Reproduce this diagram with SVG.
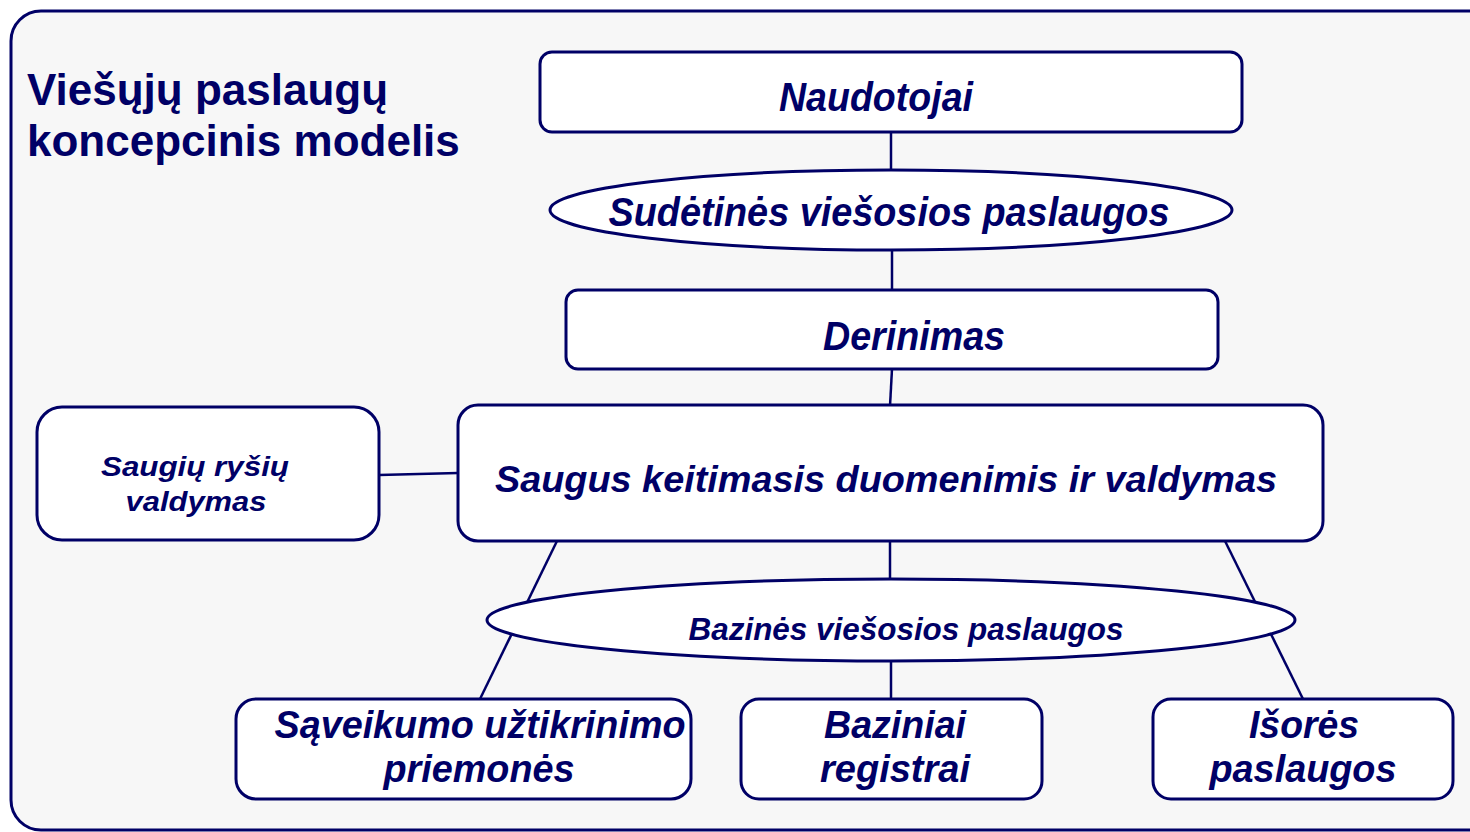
<svg xmlns="http://www.w3.org/2000/svg" width="1470" height="832" viewBox="0 0 1470 832">
<style>
.box{fill:#ffffff;stroke:#000066;stroke-width:3}
.ln{stroke:#000066;stroke-width:2.5;fill:none}
.t{font-family:"Liberation Sans",Arial,sans-serif;font-weight:bold;font-style:italic;fill:#000066;text-anchor:middle}
.title{font-family:"Liberation Sans",Arial,sans-serif;font-weight:bold;fill:#000066;font-size:44px}
</style>
<rect x="0" y="0" width="1470" height="832" fill="#ffffff"/>
<rect x="11" y="11" width="1500" height="819" rx="30" fill="#f7f7f7" stroke="#000066" stroke-width="3"/>
<g id="title">
<text class="title" x="27" y="105">Viešųjų paslaugų</text>
<text class="title" x="27" y="156">koncepcinis modelis</text>
</g>
<g id="connectors">
<line class="ln" x1="891" y1="132" x2="891" y2="170"/>
<line class="ln" x1="892" y1="250" x2="892" y2="290"/>
<line class="ln" x1="892" y1="369" x2="890" y2="406"/>
<line class="ln" x1="379" y1="475" x2="458" y2="473"/>
<line class="ln" x1="890" y1="541" x2="890" y2="580"/>
<line class="ln" x1="557" y1="541" x2="480" y2="699"/>
<line class="ln" x1="1225" y1="541" x2="1303" y2="699"/>
<line class="ln" x1="891" y1="660" x2="891" y2="699"/>
</g>
<g id="naudotojai">
<rect class="box" x="540" y="52" width="702" height="80" rx="12"/>
<text class="t" x="876" y="111" font-size="40" textLength="194" lengthAdjust="spacingAndGlyphs">Naudotojai</text>
</g>
<g id="sudetines">
<ellipse class="box" cx="891" cy="210" rx="341" ry="40"/>
<text class="t" x="889" y="226" font-size="40" textLength="561" lengthAdjust="spacingAndGlyphs">Sudėtinės viešosios paslaugos</text>
</g>
<g id="derinimas">
<rect class="box" x="566" y="290" width="652" height="79" rx="12"/>
<text class="t" x="914" y="350" font-size="40" textLength="182" lengthAdjust="spacingAndGlyphs">Derinimas</text>
</g>
<g id="saugus">
<rect class="box" x="458" y="405" width="865" height="136" rx="20"/>
<text class="t" x="886" y="492" font-size="36" textLength="782" lengthAdjust="spacingAndGlyphs">Saugus keitimasis duomenimis ir valdymas</text>
</g>
<g id="saugiu">
<rect class="box" x="37" y="407" width="342" height="133" rx="25"/>
<text class="t" x="195" y="476" font-size="28" textLength="188" lengthAdjust="spacingAndGlyphs">Saugių ryšių</text>
<text class="t" x="196" y="511" font-size="28" textLength="141" lengthAdjust="spacingAndGlyphs">valdymas</text>
</g>
<g id="bazines">
<ellipse class="box" cx="891" cy="620" rx="404" ry="41"/>
<text class="t" x="906" y="640" font-size="31" textLength="435" lengthAdjust="spacingAndGlyphs">Bazinės viešosios paslaugos</text>
</g>
<g id="saveikumo">
<rect class="box" x="236" y="699" width="455" height="100" rx="20"/>
<text class="t" x="480" y="738" font-size="39" textLength="411" lengthAdjust="spacingAndGlyphs">Sąveikumo užtikrinimo</text>
<text class="t" x="479" y="782" font-size="39" textLength="191" lengthAdjust="spacingAndGlyphs">priemonės</text>
</g>
<g id="baziniai">
<rect class="box" x="741" y="699" width="301" height="100" rx="18"/>
<text class="t" x="895" y="738" font-size="39" textLength="142" lengthAdjust="spacingAndGlyphs">Baziniai</text>
<text class="t" x="895" y="782" font-size="39" textLength="150" lengthAdjust="spacingAndGlyphs">registrai</text>
</g>
<g id="isores">
<rect class="box" x="1153" y="699" width="300" height="100" rx="18"/>
<text class="t" x="1304" y="738" font-size="39" textLength="110" lengthAdjust="spacingAndGlyphs">Išorės</text>
<text class="t" x="1303" y="782" font-size="39" textLength="187" lengthAdjust="spacingAndGlyphs">paslaugos</text>
</g>
</svg>
